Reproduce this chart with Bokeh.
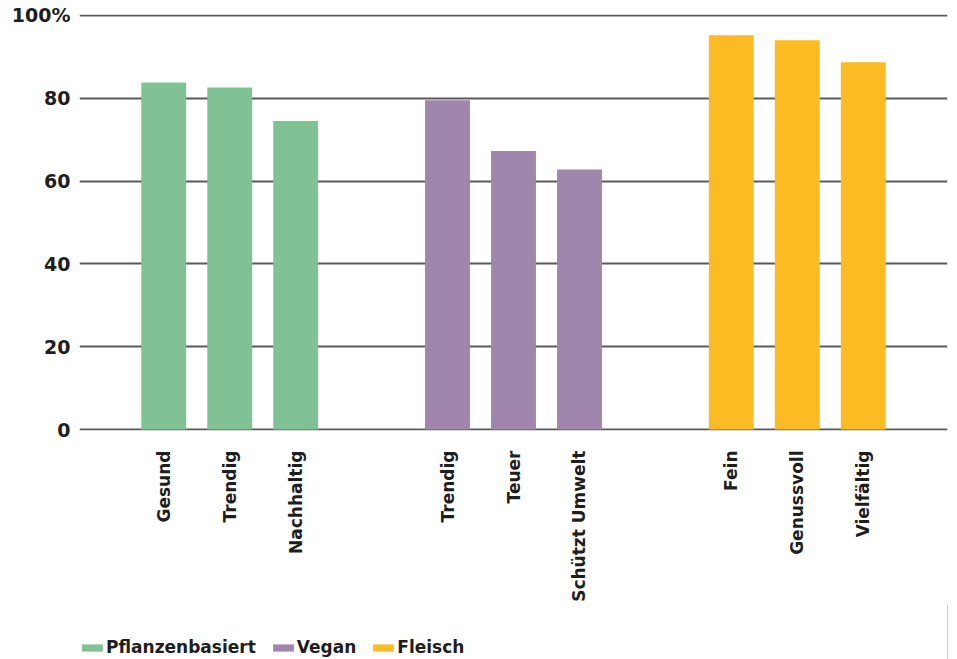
import math
from bokeh.plotting import figure
from bokeh.layouts import column
from bokeh.models import (FactorRange, ColumnDataSource, Legend, LegendItem,
                          CustomJSTickFormatter, FixedTicker, Range1d)
from bokeh.embed import file_html
from bokeh.resources import INLINE

# ---- data ----
groups = ["Pflanzenbasiert", "Vegan", "Fleisch"]
group_colors = ["#80C293", "#A085AC", "#FCBB22"]
pflanzen_labels = ["Gesund", "Trendig", "Nachhaltig"]
pflanzen_values = [83.8, 82.6, 74.5]
vegan_labels = ["Trendig", "Teuer", "Schützt Umwelt"]
vegan_values = [79.5, 67.3, 62.8]
fleisch_labels = ["Fein", "Genussvoll", "Vielfältig"]
fleisch_values = [95.2, 94.0, 88.7]
y_ticks = [0, 20, 40, 60, 80, 100]

labels_by_group = [pflanzen_labels, vegan_labels, fleisch_labels]
values_by_group = [pflanzen_values, vegan_values, fleisch_values]

x, top, color, grp = [], [], [], []
for g, c, labs, vals in zip(groups, group_colors, labels_by_group, values_by_group):
    for l, v in zip(labs, vals):
        x.append((g, l))
        top.append(v)
        color.append(c)
        grp.append(g)

source = ColumnDataSource(dict(x=x, top=top, color=color, grp=grp))

x_range = FactorRange(*x, group_padding=1.3, factor_padding=0.0,
                      range_padding=0.776, range_padding_units="absolute")

p = figure(x_range=x_range, y_range=Range1d(-0.24, 100.24),
           frame_width=868, frame_height=416,
           min_border_left=79, min_border_top=14, min_border_right=10,
           min_border_bottom=0,
           output_backend="svg", toolbar_location=None)

r = p.vbar(x="x", top="top", width=0.68, fill_color="color",
           line_color=None, source=source)

# y axis
p.yaxis.ticker = FixedTicker(ticks=y_ticks)
p.yaxis.formatter = CustomJSTickFormatter(
    code="return tick == 100 ? '100%' : String(tick);")
p.yaxis.axis_line_color = None
p.yaxis.major_tick_line_color = None
p.yaxis.minor_tick_line_color = None
p.yaxis.major_label_text_font = "DejaVu Sans"
p.yaxis.major_label_text_font_style = "bold"
p.yaxis.major_label_text_font_size = "19px"
p.yaxis.major_label_text_color = "#1e1e1e"
p.yaxis.major_label_standoff = 3

# x axis
p.xaxis.axis_line_color = None
p.xaxis.major_tick_line_color = None
p.xaxis.minor_tick_line_color = None
p.xaxis.major_label_orientation = math.pi / 2
p.xaxis.major_label_text_font = "DejaVu Sans"
p.xaxis.major_label_text_font_style = "bold"
p.xaxis.major_label_text_font_size = "17px"
p.xaxis.major_label_text_color = "#1e1e1e"
p.xaxis.major_label_standoff = 14
p.xaxis.group_text_font_size = "1px"
p.xaxis.group_text_color = None
p.xaxis.group_label_orientation = "parallel"
p.xaxis.separator_line_color = None

# grid
p.xgrid.grid_line_color = None
p.ygrid.ticker = FixedTicker(ticks=y_ticks)
p.ygrid.grid_line_color = "#5a5a5a"
p.ygrid.grid_line_width = 2
p.outline_line_color = None

# legend in its own small figure below
lf = figure(width=957, height=56, x_range=Range1d(0, 1), y_range=Range1d(0, 1),
            min_border=0, output_backend="svg", toolbar_location=None)
lf.xaxis.visible = False
lf.yaxis.visible = False
lf.grid.visible = False
lf.outline_line_color = None

items = []
for g, c in zip(groups, group_colors):
    # one out-of-view bar per series, used only for the legend swatch
    rr = lf.vbar(x=[5], top=[1], width=0.5, fill_color=c, line_color=None)
    items.append(LegendItem(label=g, renderers=[rr]))

legend = Legend(items=items, orientation="horizontal", location=(0, 3),
                glyph_width=26, glyph_height=9, label_standoff=1, spacing=14,
                padding=0, margin=0, border_line_color=None,
                background_fill_alpha=0,
                label_text_font="DejaVu Sans", label_text_font_style="bold",
                label_text_font_size="17px", label_text_color="#1e1e1e")
lf.add_layout(legend, "center")

layout = column(p, lf, spacing=0)
open("out.html", "w").write(file_html(layout, INLINE))
